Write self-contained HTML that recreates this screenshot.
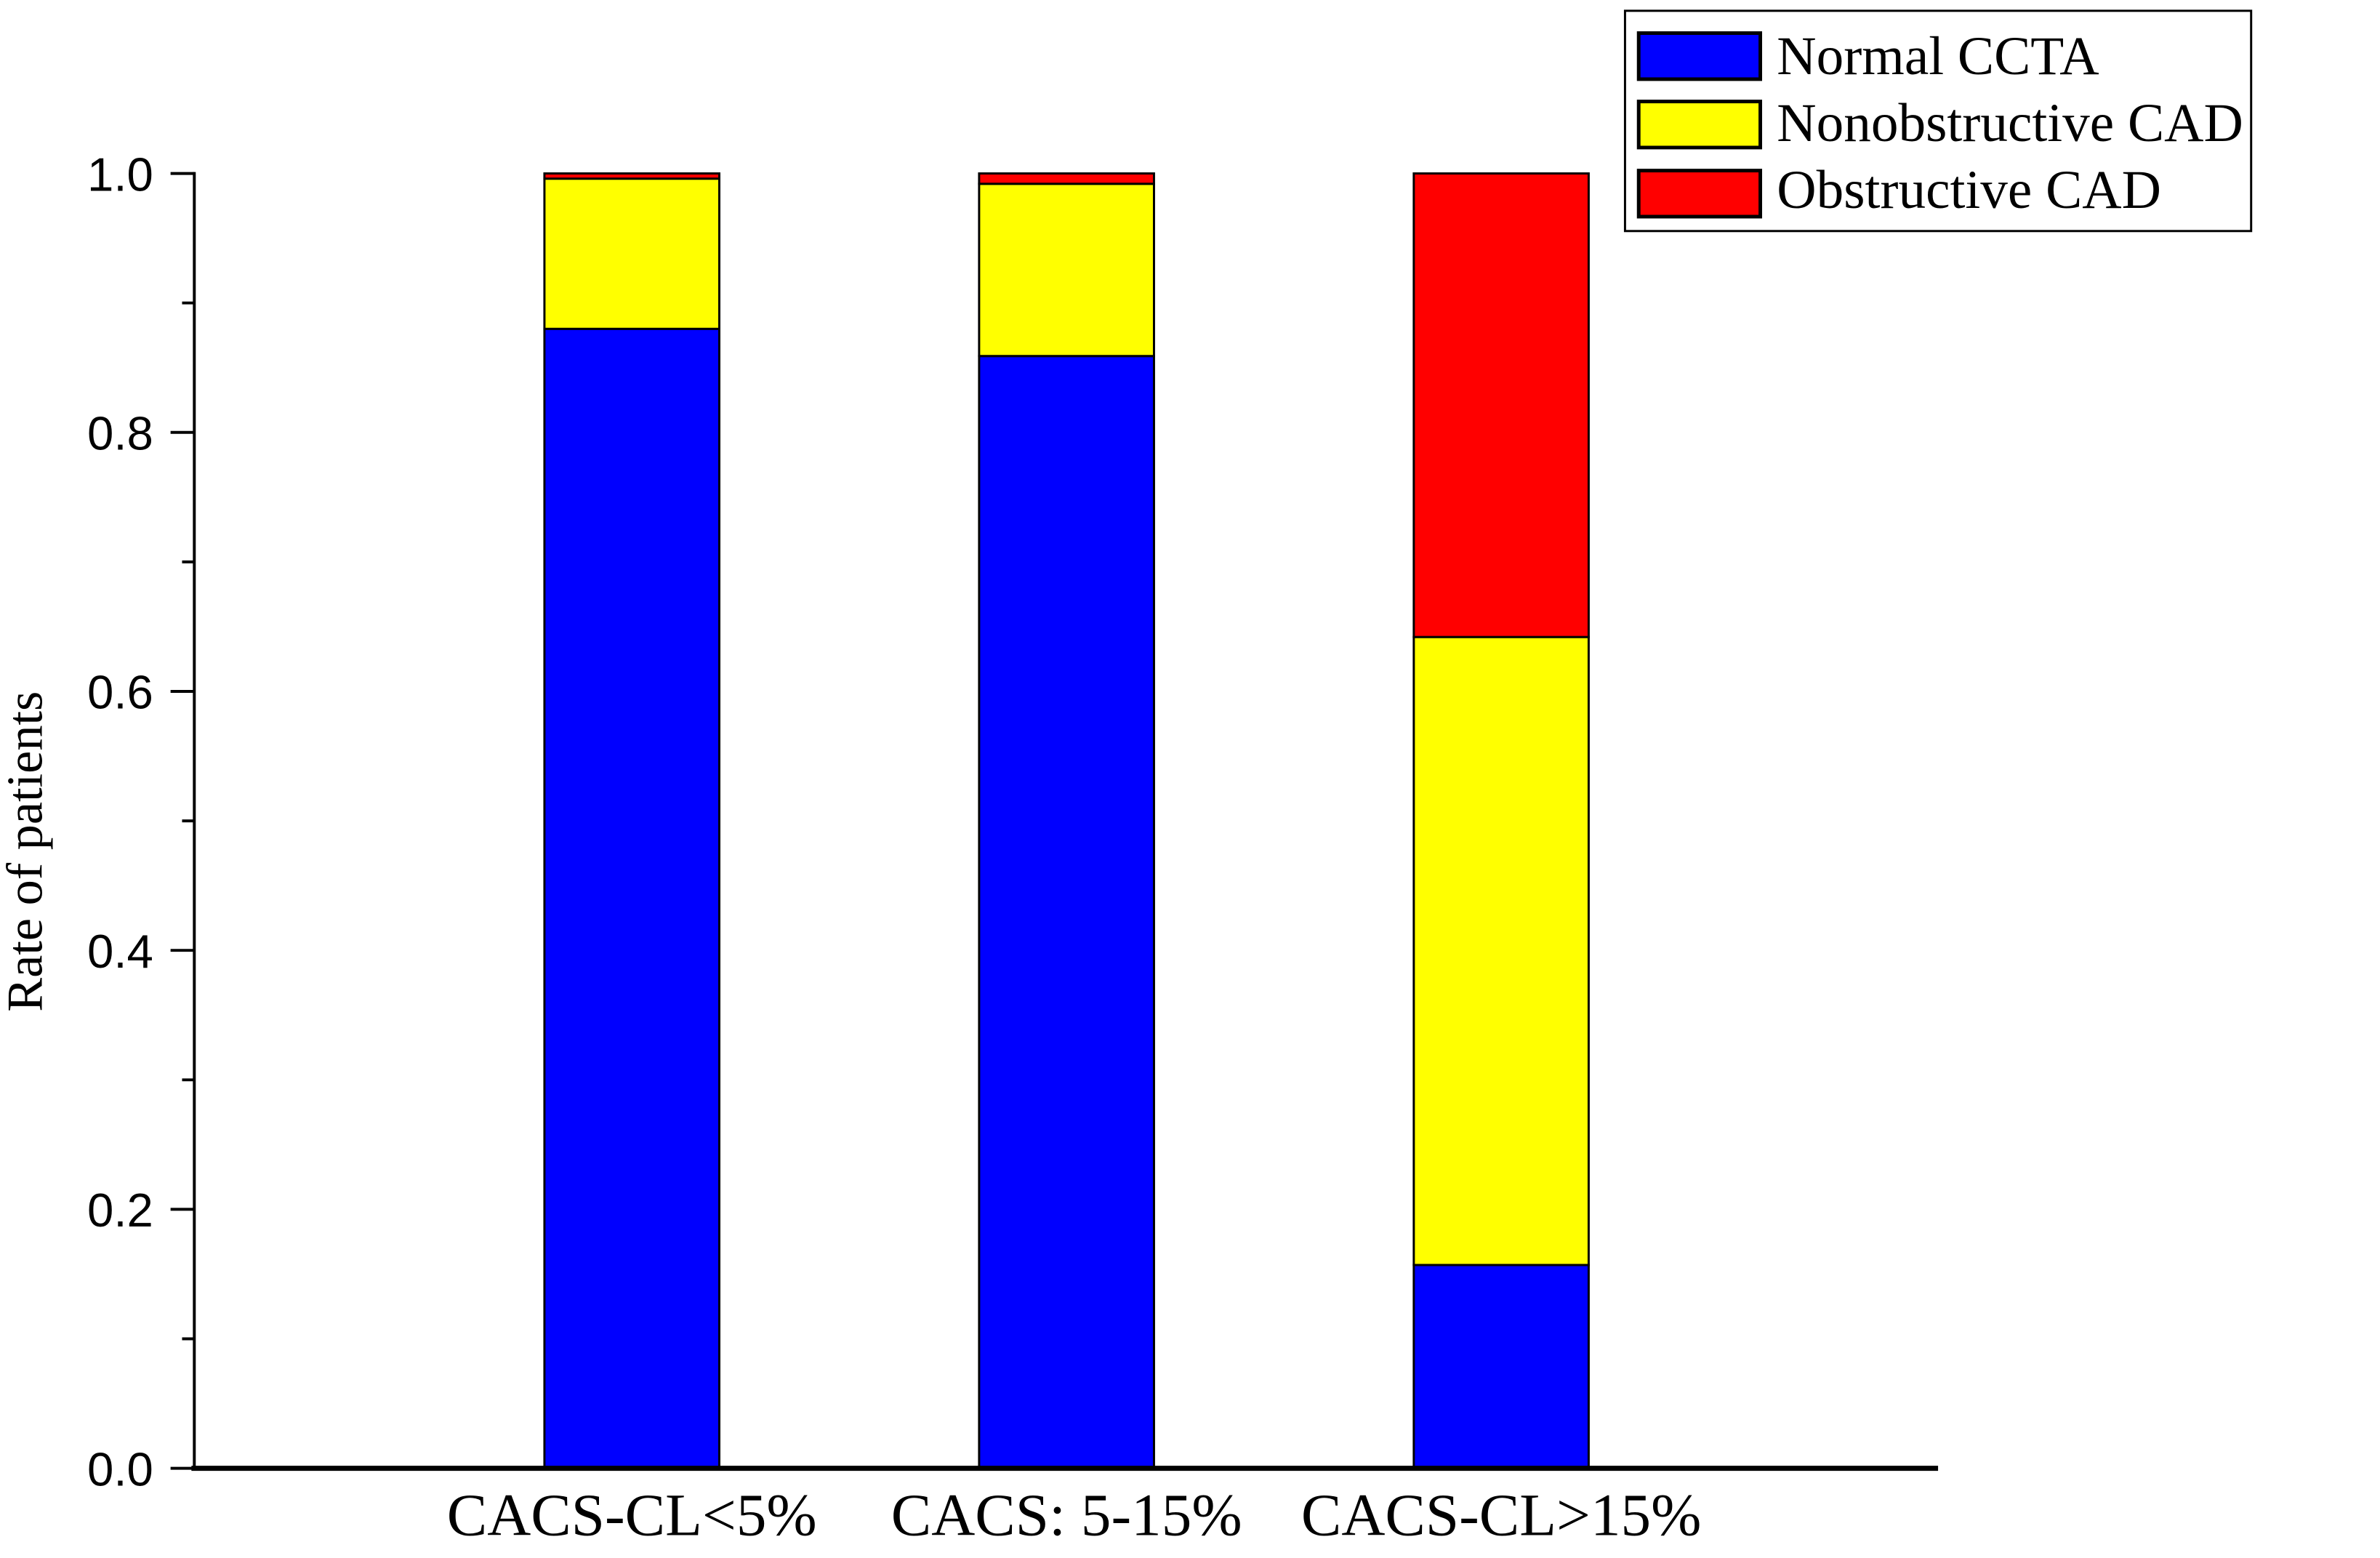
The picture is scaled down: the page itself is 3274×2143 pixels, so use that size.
<!DOCTYPE html>
<html><head><meta charset="utf-8"><style>html,body{margin:0;padding:0;background:#fff}svg{display:block}</style></head>
<body>
<svg id="chart" xmlns="http://www.w3.org/2000/svg" width="3274" height="2143" viewBox="0 0 3274 2143">
<rect width="3274" height="2143" fill="#fff"/>
<g transform="scale(0.99)">
<g id="bars"></g>
<g id="axes"></g>
<text transform="translate(58,1183) rotate(-90)" text-anchor="middle" font-family="Liberation Serif, serif" font-size="71">Rate of patients</text>
<g>
<rect x="2258" y="15" width="870" height="306" fill="#fff" stroke="#000" stroke-width="3"/>
<g><rect x="2277" y="46" width="169" height="64" fill="#0000ff" stroke="#000" stroke-width="5"/><text x="2469" y="103" font-family="Liberation Serif, serif" font-size="76">Normal CCTA</text></g>
<g><rect x="2277" y="141" width="169" height="64" fill="#ffff00" stroke="#000" stroke-width="5"/><text x="2469" y="196" font-family="Liberation Serif, serif" font-size="76">Nonobstructive CAD</text></g>
<g><rect x="2277" y="237" width="169" height="64" fill="#ff0000" stroke="#000" stroke-width="5"/><text x="2469" y="289" font-family="Liberation Serif, serif" font-size="76">Obstructive CAD</text></g>
</g>
</g>
</svg>
<script>
const categories = ["CACS-CL<5%", "CACS: 5-15%", "CACS-CL>15%"];
const normalCCTA = [0.880, 0.859, 0.157];
const nonobstructiveCAD = [0.116, 0.133, 0.485];
const obstructiveCAD = [0.004, 0.008, 0.358];
const yTicks = [0, 0.2, 0.4, 0.6, 0.8, 1.0];
const yTickLabels = ["0.0", "0.2", "0.4", "0.6", "0.8", "1.0"];
const yMinorTicks = [0.1, 0.3, 0.5, 0.7, 0.9];

const NS = "http://www.w3.org/2000/svg";
const X0 = 270, XR = 2693, Y0 = 2040, Y1 = 241;
const xScale = i => X0 + (i + 1) * 604 + 4;
const yScale = v => Y0 - v * (Y0 - Y1);
const barW = 243;
function mk(tag, attrs, parent) {
  const e = document.createElementNS(NS, tag);
  for (const k in attrs) e.setAttribute(k, attrs[k]);
  parent.appendChild(e);
  return e;
}
const barsG = document.getElementById('bars');
const series = [["normal-ccta", normalCCTA, "#0000ff"], ["nonobstructive-cad", nonobstructiveCAD, "#ffff00"], ["obstructive-cad", obstructiveCAD, "#ff0000"]];
categories.forEach((c, i) => {
  let base = 0;
  series.forEach(([name, vals, col]) => {
    const v = vals[i];
    const r = mk('rect', {x: xScale(i) - barW / 2, y: yScale(base + v), width: barW, height: yScale(base) - yScale(base + v), fill: col, stroke: '#000', 'stroke-width': 3}, barsG);
    
    
    base += v;
  });
  const t = mk('text', {x: xScale(i), y: 2133, 'text-anchor': 'middle', 'font-family': 'Liberation Serif, serif', 'font-size': 84}, barsG);
  t.textContent = c;
  
  
});
const ax = document.getElementById('axes');
const ya = mk('line', {x1: X0, y1: Y1 - 2, x2: X0, y2: Y0, stroke: '#000', 'stroke-width': 4}, ax);


const xa = mk('line', {x1: X0 - 4, y1: Y0, x2: XR, y2: Y0, stroke: '#000', 'stroke-width': 7}, ax);


yTicks.forEach((v, k) => {
  const l = mk('line', {x1: 237, y1: yScale(v), x2: X0, y2: yScale(v), stroke: '#000', 'stroke-width': 4}, ax);
  
  
  const t = mk('text', {x: 213, y: yScale(v) + 24, 'text-anchor': 'end', 'font-family': 'Liberation Sans, sans-serif', 'font-size': 66}, ax);
  t.textContent = yTickLabels[k];
  
  
});
yMinorTicks.forEach(v => {
  const l = mk('line', {x1: 253, y1: yScale(v), x2: X0, y2: yScale(v), stroke: '#000', 'stroke-width': 4}, ax);
  
  
});
</script>
</body></html>
